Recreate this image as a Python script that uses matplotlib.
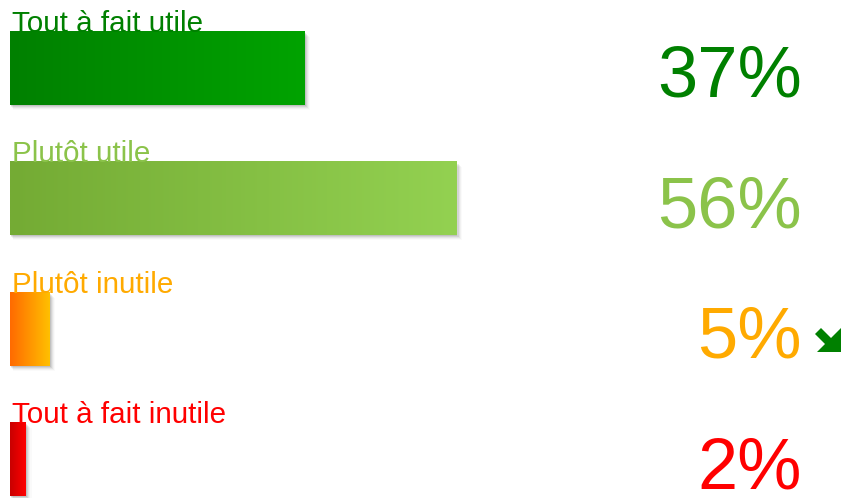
import matplotlib
matplotlib.use("Agg")
import matplotlib.pyplot as plt
import numpy as np
from matplotlib.colors import LinearSegmentedColormap
from matplotlib.patches import Polygon

categories = ["Tout à fait utile", "Plutôt utile", "Plutôt inutile", "Tout à fait inutile"]
values = [37, 56, 5, 2]
labels = ["37%", "56%", "5%", "2%"]
grad_left = ["#008000", "#74AB34", "#FF6A00", "#C80000"]
grad_right = ["#00A300", "#93D151", "#FFC000", "#FF0000"]
text_colors = ["#008000", "#8BC34A", "#FFAA00", "#FF0000"]

plt.rcParams['font.family'] = ['Liberation Sans', 'DejaVu Sans']

W, H = 841, 498
fig = plt.figure(figsize=(W / 100, H / 100), dpi=100)
ax = fig.add_axes([0, 0, 1, 1])
ax.set_axis_off()
ax.set_xlim(-10 / 7.97, (W - 10) / 7.97)
ax.set_ylim((H - 68) / 130.5, -68 / 130.5)

h = 0.56
grad = np.linspace(0, 1, 256).reshape(1, -1)
for i, (cat, v, lab) in enumerate(zip(categories, values, labels)):
    y0, y1 = i - h / 2, i + h / 2
    # soft shadow
    for k, a in enumerate([0.09, 0.07, 0.05, 0.035, 0.02]):
        dx = (k + 1) * 0.14
        dy = (k + 1) * 0.008
        ax.add_patch(plt.Rectangle((dx * 0.6, y0 + dy), v + dx * 0.4, h, color="black",
                                   alpha=a, lw=0, zorder=1))
    cmap = LinearSegmentedColormap.from_list(f"g{i}", [grad_left[i], grad_right[i]])
    ax.imshow(grad, cmap=cmap, extent=(0, v, y1, y0), aspect="auto", zorder=2,
              interpolation="bilinear")
    ax.text(0.25, y0 + 0.003, cat, color=text_colors[i], fontsize=21.3, va="baseline",
            ha="left", zorder=3)
    ax.text(99.4, i + 0.22, lab, color=text_colors[i], fontsize=52, va="baseline",
            ha="right", zorder=3)

# heavy south-east arrow next to 5%
pts = [(841, 328), (841, 352), (817, 352), (825, 344), (815, 334), (821, 328), (831, 338)]
arrow = Polygon([(x / W, 1 - y / H) for x, y in pts], closed=True,
                facecolor="#008000", edgecolor="none", transform=fig.transFigure)
fig.patches.append(arrow)

fig.savefig("out.png", dpi=100)
